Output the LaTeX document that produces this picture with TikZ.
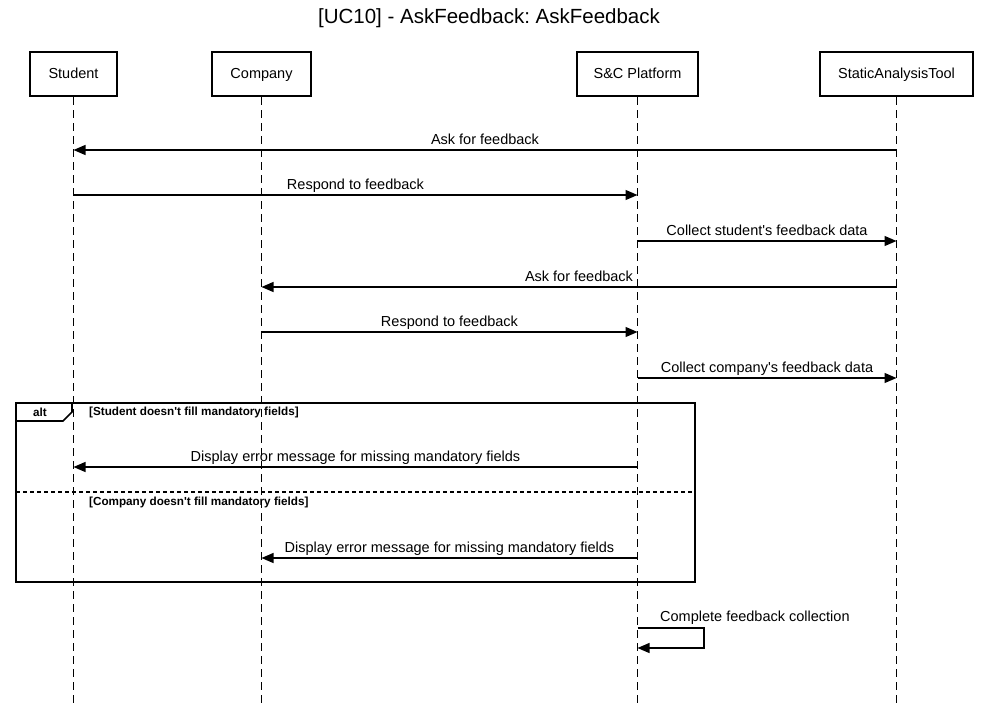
\documentclass[tikz,border=0pt]{standalone}
\usepackage{fontspec}
\setmainfont{Liberation Sans}
\newfontfamily\arial{Liberation Sans}
\usetikzlibrary{arrows.meta,positioning}
\begin{document}
\frenchspacing
\begin{tikzpicture}[x=1pt,y=-1pt,
  actor/.style={draw,line width=2.2pt,minimum width=#1,minimum height=44pt,inner sep=0pt,text height=10.5pt,text depth=0.5pt,font=\arial\fontsize{14.5}{17}\selectfont},
  lifeline/.style={dashed,dash pattern=on 8pt off 5pt,line width=0.9pt},
  msg/.style={line width=1.2pt,-{Triangle[length=12pt,width=10pt]}},
  msglabel/.style={font=\arial\fontsize{14.5}{17}\selectfont,inner sep=0pt,anchor=base,yshift=6pt},
  guard/.style={font=\arial\bfseries\fontsize{11.7}{13}\selectfont,inner sep=0pt,anchor=west},
  frame/.style={line width=1.6pt}]
\useasboundingbox (0,0) rectangle (981,706);
\node[font=\arial\fontsize{20.5}{24}\selectfont] (title) at (489,18) {[UC10] - AskFeedback: AskFeedback};
% actors
\node[actor=87pt] (stu) at (73.5,74) {Student};
\node[actor=99pt] (com) at (261.5,74) {Company};
\node[actor=121pt] (scp) at (637.5,74) {S\&C Platform};
\node[actor=153pt] (sat) at (896.5,74) {StaticAnalysisTool};
% lifeline ends
\coordinate (stuE) at (73.5,706);
\coordinate (comE) at (261.5,706);
\coordinate (scpE) at (637.5,706);
\coordinate (satE) at (896.5,706);
\draw[lifeline] (stu.south) -- (stuE);
\draw[lifeline] (com.south) -- (comE);
\draw[lifeline] (scp.south) -- (scpE);
\draw[lifeline] (sat.south) -- (satE);
% message points
\coordinate (sat1) at (896.5,150); \coordinate (stu1) at (73.5,150);
\coordinate (stu2) at (73.5,195); \coordinate (scp2) at (637.5,195);
\coordinate (scp3) at (637.5,241); \coordinate (sat3) at (896.5,241);
\coordinate (sat4) at (896.5,287); \coordinate (com4) at (261.5,287);
\coordinate (com5) at (261.5,332); \coordinate (scp5) at (637.5,332);
\coordinate (scp6) at (637.5,378); \coordinate (sat6) at (896.5,378);
\coordinate (scp7) at (637.5,467); \coordinate (stu7) at (73.5,467);
\coordinate (scp8) at (637.5,558); \coordinate (com8) at (261.5,558);
\coordinate (scp9) at (637.5,628); \coordinate (scp9b) at (637.5,648);
\draw[msg] (sat1) -- node[msglabel] {Ask for feedback} (stu1);
\draw[msg] (stu2) -- node[msglabel] {Respond to feedback} (scp2);
\draw[msg] (scp3) -- node[msglabel] {Collect student's feedback data} (sat3);
\draw[msg] (sat4) -- node[msglabel] {Ask for feedback} (com4);
\draw[msg] (com5) -- node[msglabel] {Respond to feedback} (scp5);
\draw[msg] (scp6) -- node[msglabel] {Collect company's feedback data} (sat6);
\draw[msg] (scp7) -- node[msglabel] {Display error message for missing mandatory fields} (stu7);
\draw[msg] (scp8) -- node[msglabel] {Display error message for missing mandatory fields} (com8);
\draw[msg] (scp9) -- (704,628) -- (704,648) -- (scp9b);
\node[font=\arial\fontsize{14.5}{17}\selectfont,inner sep=0pt,anchor=base west] (selfl) at (660,621) {Complete feedback collection};
% alt frame
\draw[frame] (16,403) rectangle (695,582);
\draw[frame] (16,421) -- (63,421) -- (72,412) -- (72,403);
\node[font=\arial\bfseries\fontsize{11.7}{13}\selectfont] (altl) at (40,412) {alt};
\node[guard] (g1) at (89,412) {[Student doesn't fill mandatory fields]};
\draw[dashed,dash pattern=on 4pt off 3pt,line width=1.4pt] (16,492) -- (695,492);
\node[guard] (g2) at (89,502) {[Company doesn't fill mandatory fields]};
\end{tikzpicture}
\end{document}
